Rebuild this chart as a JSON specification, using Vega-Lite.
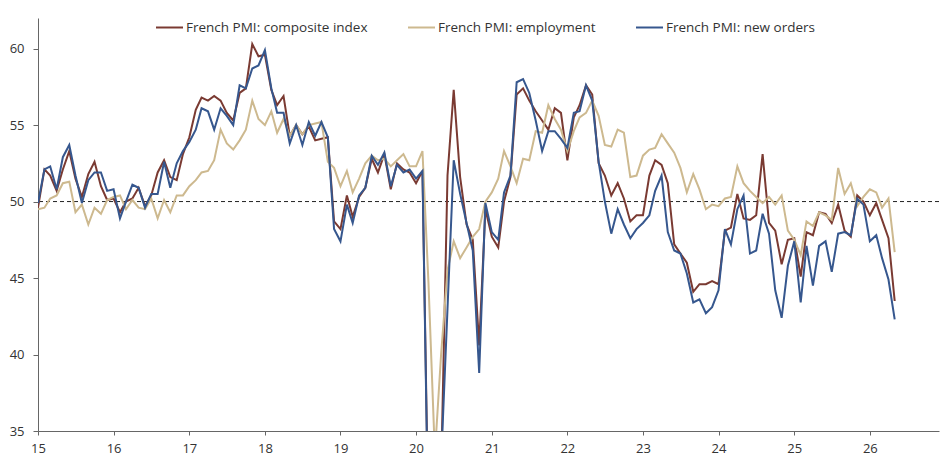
{
  "$schema": "https://vega.github.io/schema/vega-lite/v6.json",
  "width": 901,
  "height": 413,
  "autosize": {"type": "none"},
  "padding": {"left": 38, "top": 18, "right": 13, "bottom": 33},
  "background": "white",
  "config": {"font": "Open Sans", "view": {"stroke": null}},
  "data": {"values": [
    {"d":"2015-01-01","c":49.6,"e":49.5,"n":49.9},{"d":"2015-02-01","c":52.1,"e":49.6,"n":52.1},{"d":"2015-03-01","c":51.7,"e":50.2,"n":52.3},{"d":"2015-04-01","c":50.7,"e":50.4,"n":50.8},{"d":"2015-05-01","c":52.1,"e":51.2,"n":52.9},{"d":"2015-06-01","c":53.3,"e":51.3,"n":53.7},{"d":"2015-07-01","c":51.5,"e":49.3,"n":51.7},{"d":"2015-08-01","c":50.3,"e":49.8,"n":49.9},{"d":"2015-09-01","c":51.8,"e":48.5,"n":51.4},{"d":"2015-10-01","c":52.6,"e":49.6,"n":51.9},{"d":"2015-11-01","c":51.0,"e":49.2,"n":51.9},{"d":"2015-12-01","c":50.1,"e":50.1,"n":50.7},
    {"d":"2016-01-01","c":50.2,"e":50.3,"n":50.8},{"d":"2016-02-01","c":49.3,"e":50.4,"n":48.9},{"d":"2016-03-01","c":50.0,"e":49.5,"n":50.0},{"d":"2016-04-01","c":50.2,"e":50.1,"n":51.1},{"d":"2016-05-01","c":50.9,"e":49.6,"n":50.9},{"d":"2016-06-01","c":49.7,"e":49.5,"n":49.6},{"d":"2016-07-01","c":50.4,"e":50.2,"n":50.5},{"d":"2016-08-01","c":51.9,"e":48.9,"n":50.5},{"d":"2016-09-01","c":52.7,"e":50.1,"n":52.6},{"d":"2016-10-01","c":51.6,"e":49.3,"n":50.9},{"d":"2016-11-01","c":51.4,"e":50.4,"n":52.5},{"d":"2016-12-01","c":53.1,"e":50.4,"n":53.3},
    {"d":"2017-01-01","c":54.2,"e":51.0,"n":53.9},{"d":"2017-02-01","c":56.0,"e":51.4,"n":54.7},{"d":"2017-03-01","c":56.8,"e":51.9,"n":56.1},{"d":"2017-04-01","c":56.6,"e":52.0,"n":55.9},{"d":"2017-05-01","c":56.9,"e":52.7,"n":54.7},{"d":"2017-06-01","c":56.6,"e":54.7,"n":56.1},{"d":"2017-07-01","c":55.8,"e":53.8,"n":55.6},{"d":"2017-08-01","c":55.3,"e":53.4,"n":55.0},{"d":"2017-09-01","c":57.1,"e":54.0,"n":57.6},{"d":"2017-10-01","c":57.4,"e":54.7,"n":57.4},{"d":"2017-11-01","c":60.3,"e":56.6,"n":58.7},{"d":"2017-12-01","c":59.5,"e":55.4,"n":58.9},
    {"d":"2018-01-01","c":59.6,"e":55.0,"n":59.9},{"d":"2018-02-01","c":57.3,"e":55.9,"n":57.4},{"d":"2018-03-01","c":56.3,"e":54.5,"n":55.8},{"d":"2018-04-01","c":56.9,"e":55.4,"n":55.8},{"d":"2018-05-01","c":54.3,"e":54.3,"n":53.8},{"d":"2018-06-01","c":55.0,"e":55.0,"n":55.0},{"d":"2018-07-01","c":54.4,"e":54.4,"n":53.7},{"d":"2018-08-01","c":54.9,"e":55.0,"n":55.2},{"d":"2018-09-01","c":54.0,"e":55.1,"n":54.3},{"d":"2018-10-01","c":54.1,"e":55.2,"n":55.2},{"d":"2018-11-01","c":54.2,"e":52.6,"n":54.2},{"d":"2018-12-01","c":48.7,"e":52.2,"n":48.2},
    {"d":"2019-01-01","c":48.2,"e":51.0,"n":47.4},{"d":"2019-02-01","c":50.4,"e":52.0,"n":49.8},{"d":"2019-03-01","c":49.0,"e":50.6,"n":48.6},{"d":"2019-04-01","c":50.3,"e":51.5,"n":50.4},{"d":"2019-05-01","c":50.9,"e":52.5,"n":50.9},{"d":"2019-06-01","c":52.8,"e":53.0,"n":53.0},{"d":"2019-07-01","c":51.9,"e":52.7,"n":52.4},{"d":"2019-08-01","c":53.1,"e":52.8,"n":53.2},{"d":"2019-09-01","c":50.8,"e":52.3,"n":51.0},{"d":"2019-10-01","c":52.5,"e":52.7,"n":52.4},{"d":"2019-11-01","c":52.1,"e":53.1,"n":51.9},{"d":"2019-12-01","c":51.9,"e":52.3,"n":52.1},
    {"d":"2020-01-01","c":51.2,"e":52.3,"n":51.5},{"d":"2020-02-01","c":52.0,"e":53.3,"n":52.0},{"d":"2020-03-01","c":28.9,"e":44.7,"n":28.0},{"d":"2020-04-01","c":11.1,"e":33.5,"n":9.0},{"d":"2020-05-01","c":32.1,"e":40.0,"n":32.9},{"d":"2020-06-01","c":51.7,"e":45.5,"n":43.0},{"d":"2020-07-01","c":57.3,"e":47.4,"n":52.7},{"d":"2020-08-01","c":51.6,"e":46.3,"n":50.5},{"d":"2020-09-01","c":48.5,"e":47.0,"n":48.6},{"d":"2020-10-01","c":47.5,"e":47.7,"n":46.8},{"d":"2020-11-01","c":40.6,"e":48.2,"n":38.8},{"d":"2020-12-01","c":49.5,"e":50.0,"n":49.9},
    {"d":"2021-01-01","c":47.7,"e":50.6,"n":48.0},{"d":"2021-02-01","c":47.0,"e":51.5,"n":47.5},{"d":"2021-03-01","c":50.0,"e":53.3,"n":50.6},{"d":"2021-04-01","c":51.6,"e":52.3,"n":51.7},{"d":"2021-05-01","c":57.0,"e":51.2,"n":57.8},{"d":"2021-06-01","c":57.4,"e":52.8,"n":58.0},{"d":"2021-07-01","c":56.6,"e":52.7,"n":57.1},{"d":"2021-08-01","c":55.9,"e":54.6,"n":55.3},{"d":"2021-09-01","c":55.3,"e":54.5,"n":53.3},{"d":"2021-10-01","c":54.7,"e":56.3,"n":54.6},{"d":"2021-11-01","c":56.1,"e":55.4,"n":54.6},{"d":"2021-12-01","c":55.8,"e":54.7,"n":54.1},
    {"d":"2022-01-01","c":52.7,"e":53.3,"n":53.5},{"d":"2022-02-01","c":55.5,"e":54.6,"n":55.8},{"d":"2022-03-01","c":56.3,"e":55.5,"n":55.9},{"d":"2022-04-01","c":57.6,"e":55.8,"n":57.6},{"d":"2022-05-01","c":57.0,"e":56.6,"n":56.6},{"d":"2022-06-01","c":52.5,"e":55.6,"n":52.6},{"d":"2022-07-01","c":51.7,"e":53.7,"n":50.0},{"d":"2022-08-01","c":50.4,"e":53.6,"n":47.9},{"d":"2022-09-01","c":51.2,"e":54.7,"n":49.5},{"d":"2022-10-01","c":50.2,"e":54.5,"n":48.5},{"d":"2022-11-01","c":48.7,"e":51.6,"n":47.6},{"d":"2022-12-01","c":49.1,"e":51.7,"n":48.2},
    {"d":"2023-01-01","c":49.1,"e":53.0,"n":48.6},{"d":"2023-02-01","c":51.7,"e":53.4,"n":49.1},{"d":"2023-03-01","c":52.7,"e":53.5,"n":50.7},{"d":"2023-04-01","c":52.4,"e":54.4,"n":51.7},{"d":"2023-05-01","c":51.2,"e":53.8,"n":48.0},{"d":"2023-06-01","c":47.2,"e":53.2,"n":46.8},{"d":"2023-07-01","c":46.6,"e":52.2,"n":46.6},{"d":"2023-08-01","c":46.0,"e":50.6,"n":45.3},{"d":"2023-09-01","c":44.1,"e":51.8,"n":43.4},{"d":"2023-10-01","c":44.6,"e":50.8,"n":43.6},{"d":"2023-11-01","c":44.6,"e":49.5,"n":42.7},{"d":"2023-12-01","c":44.8,"e":49.8,"n":43.1},
    {"d":"2024-01-01","c":44.6,"e":49.7,"n":44.2},{"d":"2024-02-01","c":48.1,"e":50.2,"n":48.2},{"d":"2024-03-01","c":48.3,"e":50.3,"n":47.2},{"d":"2024-04-01","c":50.5,"e":52.3,"n":49.5},{"d":"2024-05-01","c":48.9,"e":51.2,"n":50.4},{"d":"2024-06-01","c":48.8,"e":50.7,"n":46.6},{"d":"2024-07-01","c":49.1,"e":50.3,"n":46.8},{"d":"2024-08-01","c":53.1,"e":49.9,"n":49.2},{"d":"2024-09-01","c":48.6,"e":50.3,"n":47.9},{"d":"2024-10-01","c":48.1,"e":49.8,"n":44.2},{"d":"2024-11-01","c":45.9,"e":50.4,"n":42.4},{"d":"2024-12-01","c":47.5,"e":48.1,"n":45.8},
    {"d":"2025-01-01","c":47.6,"e":47.5,"n":47.4},{"d":"2025-02-01","c":45.1,"e":46.5,"n":43.4},{"d":"2025-03-01","c":48.0,"e":48.7,"n":47.1},{"d":"2025-04-01","c":47.8,"e":48.4,"n":44.5},{"d":"2025-05-01","c":49.3,"e":49.3,"n":47.1},{"d":"2025-06-01","c":49.2,"e":49.1,"n":47.4},{"d":"2025-07-01","c":48.6,"e":48.8,"n":45.4},{"d":"2025-08-01","c":49.8,"e":52.2,"n":47.9},{"d":"2025-09-01","c":48.1,"e":50.5,"n":48.0},{"d":"2025-10-01","c":47.7,"e":51.2,"n":47.8},{"d":"2025-11-01","c":50.4,"e":49.7,"n":50.2},{"d":"2025-12-01","c":50.0,"e":50.3,"n":49.8},
    {"d":"2026-01-01","c":49.1,"e":50.8,"n":47.4},{"d":"2026-02-01","c":49.9,"e":50.6,"n":47.8},{"d":"2026-03-01","c":48.8,"e":49.6,"n":46.3},{"d":"2026-04-01","c":47.6,"e":50.2,"n":44.9},{"d":"2026-05-01","c":43.5,"e":46.7,"n":42.3}
  ]},
  "layer": [
    {
      "data": {"values": [{"ref": 50}]},
      "mark": {"type": "rule", "strokeDash": [4, 3], "color": "#222222", "strokeWidth": 1},
      "encoding": {"y": {"field": "ref", "type": "quantitative"}}
    },
    {
      "transform": [{"fold": ["c", "e", "n"], "as": ["series", "value"]}],
      "mark": {"type": "line", "clip": true, "strokeWidth": 2},
      "encoding": {
        "x": {
          "field": "d", "type": "temporal",
          "scale": {"type": "utc", "nice": false, "domain": [{"year": 2015, "month": 1, "date": 1, "utc": true}, {"year": 2026, "month": 12, "date": 1, "utc": true}]},
          "axis": {"title": null, "format": "%y", "tickCount": {"interval": "year", "step": 1}, "grid": false, "domainColor": "#666666", "tickColor": "#666666", "tickSize": 4, "labelFontSize": 13, "labelColor": "#333333", "labelPadding": 7, "labelFlush": false}
        },
        "y": {
          "field": "value", "type": "quantitative",
          "scale": {"domain": [35, 62], "nice": false, "zero": false},
          "axis": {"title": null, "values": [35, 40, 45, 50, 55, 60], "grid": false, "domainColor": "#666666", "tickColor": "#666666", "tickSize": 5, "labelFontSize": 13, "labelColor": "#333333", "labelPadding": 9}
        },
        "color": {
          "field": "series", "type": "nominal",
          "scale": {"domain": ["c", "e", "n"], "range": ["#7a3a32", "#cdb98f", "#36578e"]},
          "legend": {
            "title": null, "orient": "none", "direction": "horizontal", "legendX": 117, "legendY": -5, "padding": 0,
            "symbolType": "stroke", "symbolSize": 729, "symbolStrokeWidth": 2, "labelOffset": 2, "columnPadding": 36,
            "labelFontSize": 13.5, "labelColor": "#333333", "labelLimit": 300,
            "labelExpr": "datum.label == 'c' ? 'French PMI: composite index' : datum.label == 'e' ? 'French PMI: employment' : 'French PMI: new orders'"
          }
        }
      }
    }
  ]
}
